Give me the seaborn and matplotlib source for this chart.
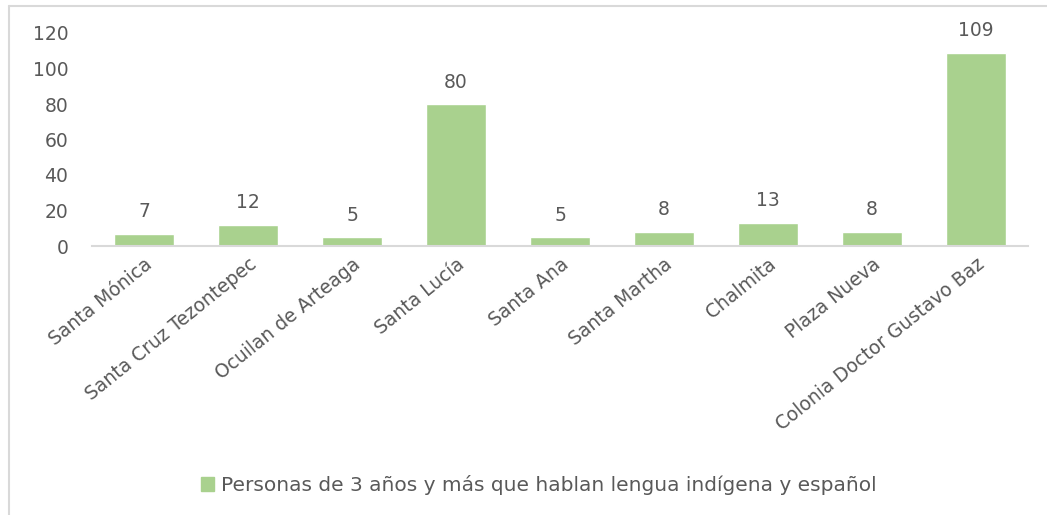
import pandas as pd
import matplotlib.pyplot as plt
import seaborn as sns
from matplotlib.lines import Line2D

# data
localidades = ['Santa Mónica', 'Santa Cruz Tezontepec', 'Ocuilan de Arteaga',
               'Santa Lucía', 'Santa Ana', 'Santa Martha', 'Chalmita',
               'Plaza Nueva', 'Colonia Doctor Gustavo Baz']
personas = [7, 12, 5, 80, 5, 8, 13, 8, 109]
serie = 'Personas de 3 años y más que hablan lengua indígena y español'

df = pd.DataFrame({'localidad': localidades, 'personas': personas})

sns.set_style('white')
plt.rcParams['font.family'] = ['DejaVu Sans']
gris = '#595959'
verde = '#A9D18E'

fig = plt.figure(figsize=(10.47, 5.15), dpi=100)
ax = fig.add_axes([92 / 1047, 1 - 246 / 515, (1028 - 92) / 1047, (246 - 33) / 515])

sns.barplot(data=df, x='localidad', y='personas', color=verde,
            saturation=1, width=0.58, ax=ax)

ax.set_ylim(0, 120)
ax.set_yticks(range(0, 121, 20))
ax.set_xlabel('')
ax.set_ylabel('')
for s in ['top', 'right', 'left']:
    ax.spines[s].set_visible(False)
ax.spines['bottom'].set_color('#D9D9D9')
ax.spines['bottom'].set_linewidth(1.5)
ax.tick_params(axis='both', length=0, colors=gris, labelsize=13.5)
ax.tick_params(axis='y', pad=17)
plt.setp(ax.get_xticklabels(), rotation=39, ha='right', rotation_mode='anchor')
ax.tick_params(axis='x', pad=6)

ax.bar_label(ax.containers[0], padding=9, color=gris, fontsize=13.5)

# legend at the bottom
fig.legend(handles=[plt.Rectangle((0, 0), 1, 1, color=verde)], labels=[serie],
           loc='center', bbox_to_anchor=(0.515, 1 - 485 / 515), frameon=False,
           handlelength=0.65, handleheight=0.65, handletextpad=0.35,
           fontsize=14.5, labelcolor=gris)

# chart area border (only top and left are visible)
fig.add_artist(Line2D([9 / 1047, 1], [1 - 6 / 515, 1 - 6 / 515],
                      transform=fig.transFigure, color='#D9D9D9', lw=1.5))
fig.add_artist(Line2D([9 / 1047, 9 / 1047], [0, 1 - 6 / 515],
                      transform=fig.transFigure, color='#D9D9D9', lw=1.5))

fig.savefig('out.png', dpi=100)
